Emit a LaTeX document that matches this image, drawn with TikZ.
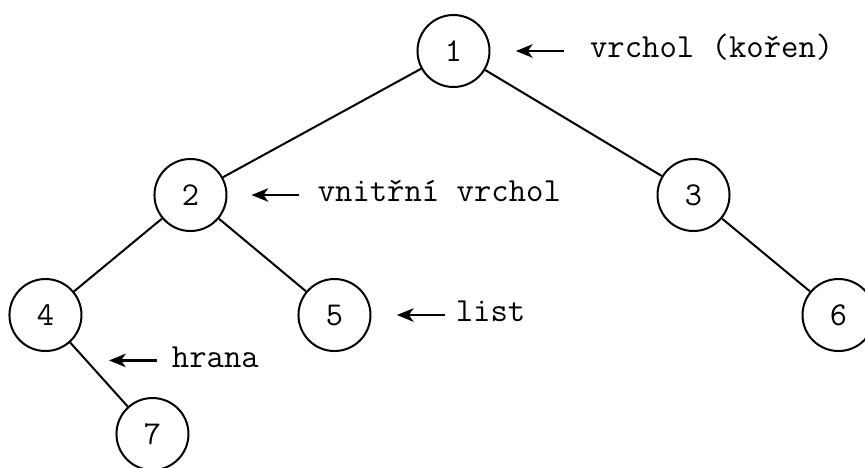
\documentclass[tikz,border=0pt]{standalone}
\usepackage{fontspec}
\usetikzlibrary{arrows.meta}
\usetikzlibrary{positioning}

\begin{document}
\begin{tikzpicture}[auto]
\tikzset{
vertex/.style = {draw, circle, on grid, line width=1.5pt, minimum size=54pt, inner sep=0pt, font=\ttfamily\fontsize{25}{25}\selectfont},
note/.style = {anchor=base west, yshift=-5pt, inner sep=0pt, font=\ttfamily\fontsize{25.3}{26}\selectfont},
line/.style = {draw, line width=1.5pt},
pointer/.style = {draw, line width=2pt, -{Stealth[length=12.5pt, width=10pt, inset=3.5pt]}}
}

     \useasboundingbox (-340.1pt,38.25pt) rectangle (308.6pt,-312pt);

     \node [vertex] (one) at (0,0) {1};
     \node [vertex, below left=108pt and 197.25pt of one] (two) {2};
     \node [vertex, below right=108pt and 180pt of one] (three) {3};
     \node [vertex, below left=90pt and 108.75pt of two] (four) {4};
     \node [vertex, below right=90pt and 108pt of two] (five) {5};
     \node [vertex, below right=90pt and 108.75pt of three] (six) {6};
     \node [vertex, below right=89.25pt and 80.25pt of four] (seven) {7};

     \path [line] (one) -- (two);
     \path [line] (one) -- (three);
     \path [line] (two) -- (four);
     \path [line] (two) -- (five);
     \path [line] (three) -- (six);
     \path [line] (four) -- coordinate [pos=0.28] (edgemid) (seven);

     \coordinate [right=19pt of one.east] (roottip);
     \coordinate [right=36pt of roottip] (roottail);
     \node [right=19.5pt of roottail, note] (rootnote) {vrchol (kořen)};
     \path [pointer] (roottail) -- (roottip);

     \coordinate [right=18pt of two.east] (innertip);
     \coordinate [right=36pt of innertip] (innertail);
     \node [right=13.5pt of innertail, note] (innernote) {vnitřní vrchol};
     \path [pointer] (innertail) -- (innertip);

     \coordinate [right=19pt of five.east] (leaftip);
     \coordinate [right=36pt of leaftip] (leaftail);
     \node [right=8pt of leaftail, note] (leafnote) {list};
     \path [pointer] (leaftail) -- (leaftip);

     \coordinate [right=17pt of edgemid] (edgetip);
     \coordinate [right=36pt of edgetip] (edgetail);
     \node [right=11pt of edgetail, note] (edgenote) {hrana};
     \path [pointer] (edgetail) -- (edgetip);
\end{tikzpicture}
\end{document}
